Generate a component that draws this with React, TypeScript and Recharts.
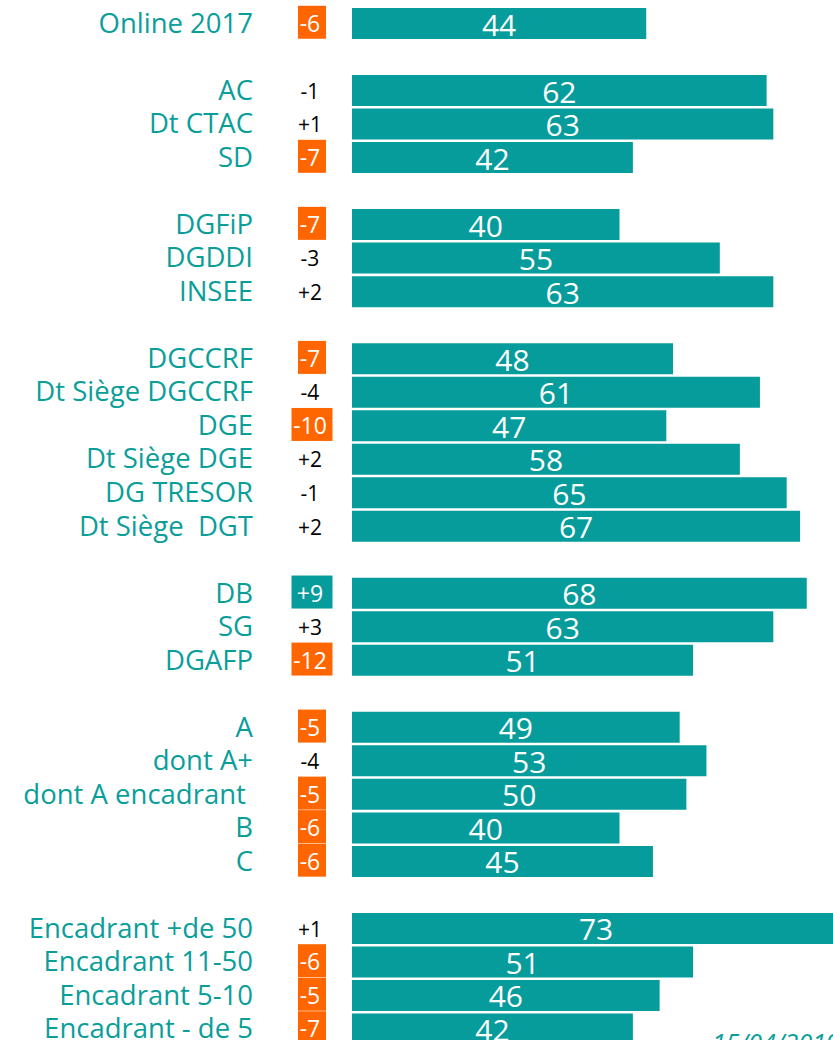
import { Bar, BarChart, LabelList, XAxis, YAxis } from "recharts";

const categories = [
  "Online 2017", "",
  "AC", "Dt CTAC", "SD", "",
  "DGFiP", "DGDDI", "INSEE", "",
  "DGCCRF", "Dt Siège DGCCRF", "DGE", "Dt Siège DGE", "DG TRESOR", "Dt Siège  DGT", "",
  "DB", "SG", "DGAFP", "",
  "A", "dont A+", "dont A encadrant ", "B", "C", "",
  "Encadrant +de 50", "Encadrant 11-50", "Encadrant 5-10", "Encadrant - de 5",
];

const scores = [
  44, null,
  62, 63, 42, null,
  40, 55, 63, null,
  48, 61, 47, 58, 65, 67, null,
  68, 63, 51, null,
  49, 53, 50, 40, 45, null,
  73, 51, 46, 42,
];

const deltas = [
  -6, null,
  -1, 1, -7, null,
  -7, -3, 2, null,
  -7, -4, -10, 2, -1, 2, null,
  9, 3, -12, null,
  -5, -4, -5, -6, -6, null,
  1, -6, -5, -7,
];

const dateLabel = "15/04/2019";

const TEAL = "#069c9c";
const TEXT_TEAL = "#0a9e9a";
const ORANGE = "#ff6600";
const FONT = "'Open Sans', sans-serif";

const data = categories.map((name, i) => ({
  key: `r${i}`,
  name,
  value: scores[i],
  delta: deltas[i],
}));

const fmtDelta = (d: number) => (d > 0 ? `+${d}` : `${d}`);

function CategoryTick(props: any) {
  const { y, payload } = props;
  const row = data.find((r) => r.key === payload.value);
  if (!row || !row.name) return null;
  const d = row.delta;
  const label = d === null ? "" : fmtDelta(d);
  const big = d !== null && Math.abs(d) >= 5;
  const wide = label.length > 2 || (d !== null && d > 0 && big);
  const bw = wide ? 41 : 28;
  const cx = 312;
  return (
    <g>
      <text
        x={253}
        y={y + 9}
        textAnchor="end"
        fill={TEXT_TEAL}
        fontSize={27.5}
        fontFamily={FONT}
        style={{ whiteSpace: "pre" }}
      >
        {row.name}
      </text>
      {big && (
        <rect x={cx - bw / 2} y={y - 18} width={bw} height={33} fill={d! < 0 ? ORANGE : TEAL} />
      )}
      {label && (
        <text
          x={cx - 2}
          y={y + 8}
          textAnchor="middle"
          fill={big ? "#ffffff" : "#000000"}
          fontSize={big ? 23 : 21}
          fontFamily={FONT}
        >
          {label}
        </text>
      )}
    </g>
  );
}

function ValueLabel(props: any) {
  const { x, y, width, height, value } = props;
  if (value === null || value === undefined) return null;
  return (
    <text
      x={x + width / 2}
      y={y + height / 2 + 12}
      textAnchor="middle"
      fill="#ffffff"
      fontSize={30}
      fontFamily={FONT}
    >
      {value}
    </text>
  );
}

export default function App() {
  return (
    <div
      style={{
        position: "fixed",
        left: 0,
        top: 0,
        width: 833,
        height: 1040,
        overflow: "hidden",
        background: "#ffffff",
      }}
    >
      <BarChart
        width={887}
        height={1046}
        data={data}
        layout="vertical"
        margin={{ top: 7, right: 0, bottom: 0, left: 0 }}
        barCategoryGap={1}
      >
        <XAxis type="number" domain={[0, 80]} hide />
        <YAxis
          type="category"
          dataKey="key"
          width={352}
          axisLine={false}
          tickLine={false}
          interval={0}
          tick={<CategoryTick />}
        />
        <Bar dataKey="value" fill={TEAL} barSize={31} isAnimationActive={false}>
          <LabelList dataKey="value" content={<ValueLabel />} />
        </Bar>
      </BarChart>
      <div
        style={{
          position: "absolute",
          left: 712,
          top: 1025,
          color: TEXT_TEAL,
          fontFamily: FONT,
          fontStyle: "italic",
          fontSize: 25,
          whiteSpace: "nowrap",
        }}
      >
        {dateLabel}
      </div>
    </div>
  );
}
